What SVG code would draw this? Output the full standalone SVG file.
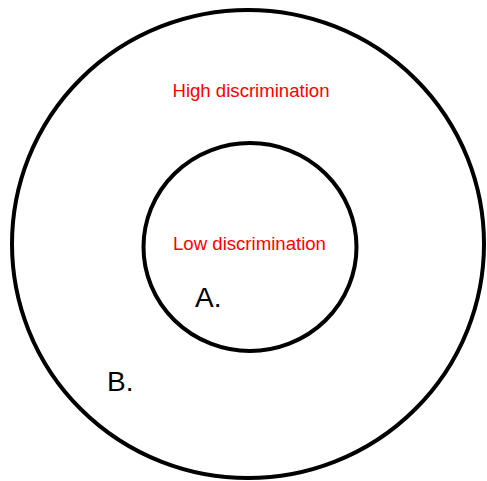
<svg xmlns="http://www.w3.org/2000/svg" width="487" height="481" viewBox="0 0 487 481">
<style>
.ring{fill:none;stroke:#000;stroke-width:4}
.lbl{font-family:"Liberation Sans",Arial,sans-serif;font-size:18.6px;fill:#ff0000;text-anchor:middle}
.big{font-family:"Liberation Sans",Arial,sans-serif;font-size:28px;fill:#000}
</style>
<rect width="487" height="481" fill="#fff"/>
<g id="outer">
<ellipse class="ring" cx="248" cy="244" rx="236" ry="234"/>
<text class="lbl" x="251" y="96.5">High discrimination</text>
<text class="big" x="107" y="390.5">B.</text>
</g>
<g id="inner">
<ellipse class="ring" cx="250" cy="247" rx="106.5" ry="104"/>
<text class="lbl" x="249.5" y="250">Low discrimination</text>
<text class="big" x="195" y="306.5">A.</text>
</g>
<g id="connectors"></g>
</svg>
